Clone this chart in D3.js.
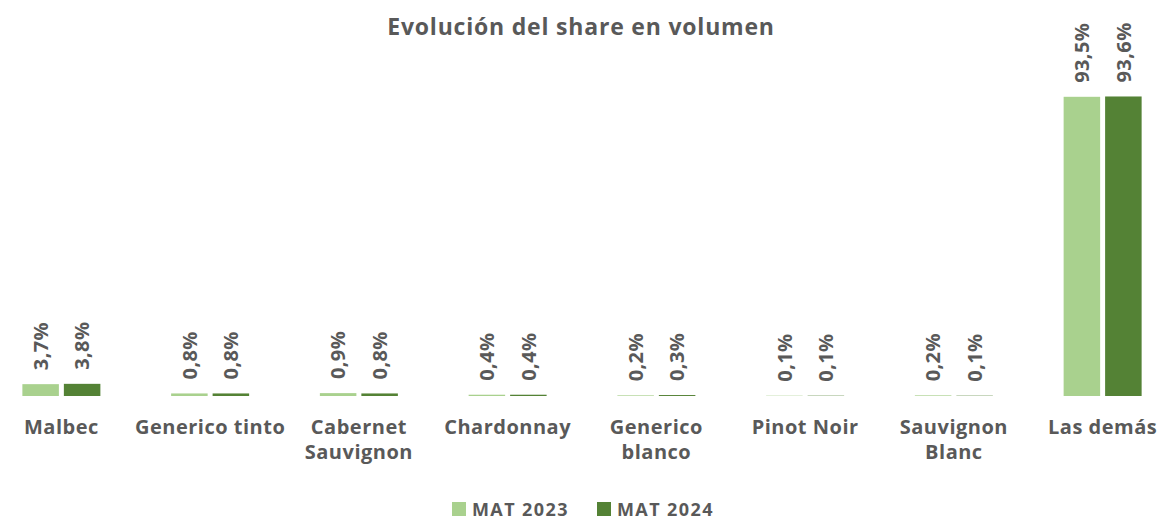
<!DOCTYPE html>
<html>
<head>
<meta charset="utf-8">
<script src="https://cdn.jsdelivr.net/npm/d3@7"></script>
<style>
  body { margin: 0; background: #fff; }
  svg text { font-family: "Open Sans", Lato, sans-serif; font-weight: bold; fill: #595959; }
</style>
</head>
<body>
<svg id="chart" width="1160" height="522"></svg>
<script>
const categories = ["Malbec", "Generico tinto", "Cabernet Sauvignon", "Chardonnay", "Generico blanco", "Pinot Noir", "Sauvignon Blanc", "Las demás"];
const categoryLines = [["Malbec"], ["Generico tinto"], ["Cabernet", "Sauvignon"], ["Chardonnay"], ["Generico", "blanco"], ["Pinot Noir"], ["Sauvignon", "Blanc"], ["Las demás"]];
const seriesNames = ["MAT 2023", "MAT 2024"];
const mat2023 = [3.7, 0.8, 0.9, 0.4, 0.2, 0.1, 0.2, 93.5];
const mat2024 = [3.8, 0.8, 0.8, 0.4, 0.3, 0.1, 0.1, 93.6];
const colors = ["#A9D18E", "#548235"];

const svg = d3.select("#chart");
const baseY = 396;

const x0 = d3.scaleBand()
    .domain(categories)
    .range([-13, 1177])
    .paddingInner(0)
    .paddingOuter(0);

const x1 = d3.scaleBand()
    .domain(seriesNames)
    .range([x0.bandwidth() / 2 - 39, x0.bandwidth() / 2 + 39])
    .paddingInner(0.12);

const y = d3.scaleLinear()
    .domain([0, 100])
    .range([baseY, 76]);

// title
svg.append("text")
    .attr("x", 581)
    .attr("y", 35)
    .attr("text-anchor", "middle")
    .style("font-size", "23px")
    .style("letter-spacing", "0.8px")
    .text("Evolución del share en volumen");

const rows = categories.map((c, i) => ({
    cat: c,
    vals: [mat2023[i], mat2024[i]]
}));

const groups = svg.append("g")
    .selectAll("g")
    .data(rows)
    .enter().append("g")
    .attr("transform", d => `translate(${x0(d.cat)},0)`);

groups.selectAll("rect")
    .data(d => d.vals.map((v, j) => ({ name: seriesNames[j], v, j })))
    .enter().append("rect")
    .attr("x", d => x1(d.name))
    .attr("y", d => y(d.v))
    .attr("width", x1.bandwidth())
    .attr("height", d => y(0) - y(d.v))
    .attr("fill", d => colors[d.j]);

groups.selectAll("text.lbl")
    .data(d => d.vals.map((v, j) => ({ name: seriesNames[j], v, j })))
    .enter().append("text")
    .attr("class", "lbl")
    .attr("transform", d => `translate(${x1(d.name) + x1.bandwidth() / 2},${y(d.v) - 14}) rotate(-90)`)
    .attr("dy", "0.36em")
    .attr("text-anchor", "start")
    .style("font-size", "20px")
    .style("letter-spacing", "0.4px")
    .text(d => d.v.toFixed(1).replace(".", ",") + "%");

// category labels
const catText = svg.append("g")
    .selectAll("text")
    .data(categories)
    .enter().append("text")
    .attr("x", d => x0(d) + x0.bandwidth() / 2)
    .attr("y", 434)
    .attr("text-anchor", "middle")
    .style("font-size", "20px")
    .style("letter-spacing", "0.5px");

catText.selectAll("tspan")
    .data((d, i) => categoryLines[i])
    .enter().append("tspan")
    .attr("x", function () { return d3.select(this.parentNode).attr("x"); })
    .attr("dy", (d, i) => i === 0 ? 0 : 25)
    .text(d => d);

// legend
const legend = svg.append("g").attr("transform", "translate(452,502)");
const legendX = [0, 145];
seriesNames.forEach((s, i) => {
    legend.append("rect")
        .attr("x", legendX[i])
        .attr("y", 0)
        .attr("width", 14)
        .attr("height", 14)
        .attr("fill", colors[i]);
    legend.append("text")
        .attr("x", legendX[i] + 20)
        .attr("y", 14)
        .style("font-size", "18px")
        .style("letter-spacing", "1.4px")
        .text(s);
});
</script>
</body>
</html>
